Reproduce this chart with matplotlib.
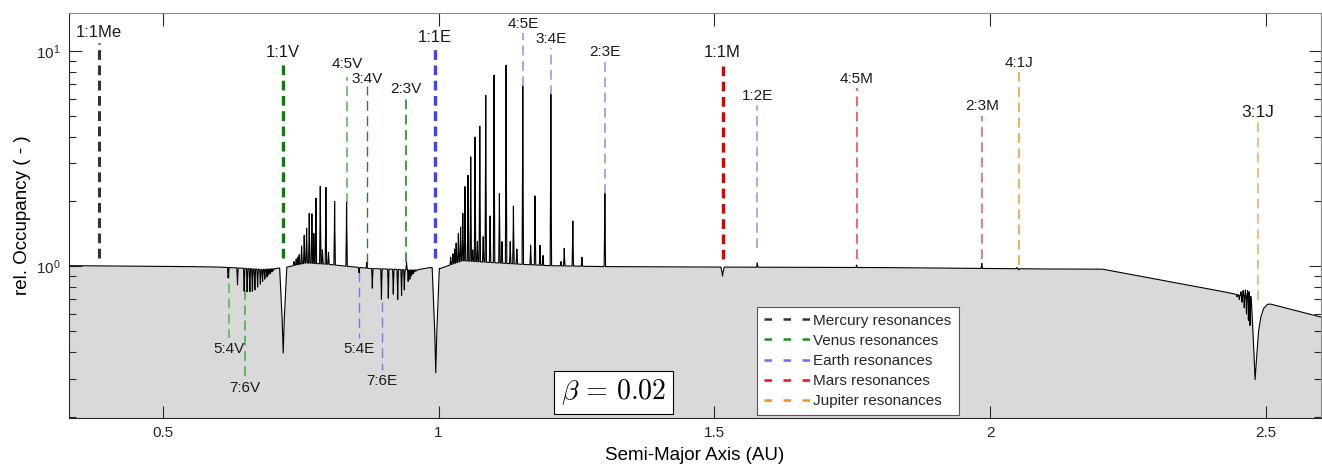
import numpy as np
import matplotlib
matplotlib.use('Agg')
import matplotlib.pyplot as plt
from matplotlib.lines import Line2D

plt.rcParams['font.family'] = ['Liberation Sans', 'DejaVu Sans']
plt.rcParams['mathtext.fontset'] = 'cm'
plt.rcParams['lines.scale_dashes'] = False
plt.rcParams['text.color'] = '#262626'

# smooth part of the occupancy curve (semi-major axis AU, rel. occupancy)
base_a = [0.33, 0.45, 0.55, 0.60, 0.64, 0.68, 0.705, 0.726, 0.74, 0.76, 0.80, 0.83, 0.85,
          0.875, 0.93, 0.944, 0.96, 0.985, 1.003, 1.02, 1.044, 1.08, 1.15, 1.20, 1.30,
          1.50, 1.80, 2.00, 2.10, 2.204, 2.43, 2.445, 2.4735, 2.4775, 2.4806, 2.4835,
          2.487, 2.491, 2.496, 2.503, 2.509, 2.60]
base_occ = [1.005, 1.0, 0.995, 0.99, 0.98, 0.965, 0.975, 0.99, 1.01, 1.035, 1.02, 1.0, 0.99,
            0.975, 0.965, 0.96, 0.96, 0.985, 0.975, 1.01, 1.06, 1.045, 1.02, 1.005, 0.995,
            0.99, 0.985, 0.975, 0.97, 0.968, 0.755, 0.74, 0.72, 0.45, 0.297, 0.38,
            0.50, 0.58, 0.635, 0.665, 0.666, 0.58]

# narrow peaks / dips (position AU, tip value)
spike_a = [0.6186, 0.6355, 0.6476, 0.6530, 0.6579, 0.6625, 0.667, 0.672, 0.677, 0.681,
           0.685, 0.689, 0.692, 0.695, 0.698, 0.701,
           0.738, 0.742, 0.745, 0.7474, 0.7517, 0.7565, 0.7608, 0.7656, 0.7704, 0.7739,
           0.7777, 0.7856, 0.7895, 0.7958, 0.8005, 0.8116, 0.8333,
           0.856, 0.870, 0.880, 0.8965, 0.909, 0.918, 0.926, 0.933, 0.938, 0.942,
           0.945, 0.948, 0.951, 0.954, 0.957, 0.960,
           1.022, 1.026, 1.029, 1.032, 1.036, 1.040, 1.044, 1.048, 1.0535, 1.0584, 1.062,
           1.0662, 1.0705, 1.0748, 1.081, 1.0856, 1.0935, 1.1007, 1.1104, 1.115, 1.1225,
           1.130, 1.1358, 1.142, 1.1528, 1.167, 1.175, 1.184, 1.1895, 1.2037, 1.222,
           1.228, 1.2435, 1.260, 1.3016,
           1.578, 1.758, 1.985, 2.045, 2.049, 2.052,
           2.448, 2.452, 2.455, 2.457, 2.459, 2.461, 2.463, 2.465, 2.467, 2.4685, 2.470, 2.4715]
spike_occ = [0.88, 0.82, 0.765, 0.76, 0.76, 0.765, 0.775, 0.80, 0.825, 0.85,
             0.87, 0.89, 0.91, 0.925, 0.94, 0.955,
             1.05, 1.08, 1.10, 1.13, 1.24, 1.39, 1.5, 1.76, 1.75, 1.42,
             2.07, 2.35, 1.19, 2.32, 1.16, 2.0, 1.97,
             0.93, 1.04, 0.79, 0.70, 0.71, 0.74, 0.70, 0.73, 0.775, 1.045,
             0.85, 0.87, 0.90, 0.92, 0.94, 0.95,
             1.10, 1.14, 1.2, 1.28, 1.42, 1.52, 1.76, 2.34, 2.64, 3.22, 1.19,
             3.98, 1.3, 4.47, 1.37, 6.22, 1.71, 7.71, 2.17, 1.3, 8.58,
             1.3, 1.90, 1.2, 6.85, 1.25, 2.12, 1.25, 1.12, 6.27, 1.05,
             1.21, 1.62, 1.10, 2.17,
             1.035, 1.012, 1.03, 0.975, 0.985, 0.96,
             0.72, 0.70, 0.76, 0.68, 0.77, 0.64, 0.775, 0.60, 0.77, 0.56, 0.76, 0.53]

# wide co-orbital dips (position, depth, half width)
dip_a = [0.7184, 0.995, 1.515]
dip_occ = [0.395, 0.32, 0.90]
dip_hw = [0.0065, 0.0065, 0.003]

# resonance markers: name, a (AU), start (near curve), end
res_names = ['1:1Me', '1:1V', '4:5V', '3:4V', '2:3V', '5:4V', '7:6V', '1:1E', '4:5E',
             '3:4E', '2:3E', '5:4E', '7:6E', '1:2E', '1:1M', '4:5M', '2:3M', '4:1J', '3:1J']
res_a = [0.384, 0.718, 0.834, 0.870, 0.941, 0.620, 0.649, 0.994, 1.153,
         1.204, 1.302, 0.856, 0.897, 1.578, 1.515, 1.758, 1.985, 2.052, 2.485]
res_from = [1.09, 1.09, 1.97, 1.03, 1.04, 0.98, 0.774, 1.09, 6.85,
            6.27, 2.17, 0.94, 0.683, 1.21, 1.085, 1.085, 1.085, 1.01, 0.695]
res_to = [10.9, 8.86, 7.6, 6.85, 5.98, 0.463, 0.305, 10.4, 12.05,
          10.3, 8.9, 0.463, 0.329, 5.6, 8.86, 6.7, 5.0, 7.96, 4.67]

# colour, line width, label size
line_style = {
    '1:1Me': ('#333333', 2.2, 12), '1:1V': ('#0a7d0a', 2.4, 12),
    '4:5V': ('#5cb85c', 1.2, 11), '3:4V': ('#2e7d2e', 1.0, 11),
    '2:3V': ('#1a941a', 1.2, 11), '5:4V': ('#5cb85c', 1.2, 11),
    '7:6V': ('#5cb85c', 1.4, 11), '1:1E': ('#4040ff', 2.4, 12),
    '4:5E': ('#9c9cff', 1.3, 11), '3:4E': ('#9c9cff', 1.3, 11),
    '2:3E': ('#9c9cff', 1.3, 11), '5:4E': ('#7a7af0', 1.0, 11),
    '7:6E': ('#7a7af0', 1.0, 11), '1:2E': ('#a0a0ff', 1.3, 11),
    '1:1M': ('#dd0000', 2.4, 12), '4:5M': ('#e85050', 1.2, 11),
    '2:3M': ('#f07878', 1.4, 11), '4:1J': ('#f0a040', 1.2, 11),
    '3:1J': ('#f2b060', 1.2, 12.5),
}
# a few labels sit a bit further from / closer to their line
label_gap = {'4:5V': 6.5, '3:4V': 2.5}

legend_names = ['Mercury resonances', 'Venus resonances', 'Earth resonances',
                'Mars resonances', 'Jupiter resonances']
legend_colors = ['#333333', '#1f8f1f', '#6b6bff', '#f01010', '#f39019']

# build curve vertices from baseline + features
feat_a = np.array(spike_a + dip_a)
feat_occ = np.array(spike_occ + dip_occ)
order = np.argsort(feat_a)
feat_a, feat_occ = feat_a[order], feat_occ[order]
hw = np.full(len(feat_a), 0.0013)
gaps = np.diff(feat_a)
near = np.minimum(np.r_[np.inf, gaps], np.r_[gaps, np.inf])
hw = np.minimum(hw, 0.45 * near)
for da, dw in zip(dip_a, dip_hw):
    hw[feat_a == da] = dw

log_base = lambda a: np.interp(a, base_a, np.log10(base_occ))
xs, ys = [], []
for a in base_a:
    if not np.any(np.abs(feat_a - a) < hw):
        xs.append(a)
        ys.append(log_base(a))
for a, t, w in zip(feat_a, np.log10(feat_occ), hw):
    bl, br = log_base(a - w), log_base(a + w)
    xs += [a - w, a - 0.3 * w, a, a + 0.3 * w, a + w]
    ys += [bl, bl + 0.6 * (t - bl), t, br + 0.6 * (t - br), br]
xs = np.array(xs)
ys = 10 ** np.array(ys)
o = np.argsort(xs, kind='stable')
xs, ys = xs[o], ys[o]

fig = plt.figure(figsize=(13.22, 4.72), dpi=100)
ax = fig.add_axes([0.0522, 0.1144, 0.9470, 0.8581])

ax.fill_between(xs, 0.1, ys, color='#d9d9d9', lw=0, zorder=1)
ax.plot(xs, ys, color='k', lw=0.8, zorder=3)

for name, a, y0, y1 in zip(res_names, res_a, res_from, res_to):
    c, lw, fs = line_style[name]
    ax.plot([a, a], [y0, y1], color=c, lw=lw, dashes=(7, 4), zorder=2)
    if y1 > y0:
        ax.annotate(name, (a, y1), xytext=(0, label_gap.get(name, 4)),
                    textcoords='offset points', ha='center', va='baseline',
                    fontsize=fs, color='#1a1a1a')
    else:
        ax.annotate(name, (a, y1), xytext=(0, -3), textcoords='offset points',
                    ha='center', va='top', fontsize=fs, color='#1a1a1a')

ax.set_yscale('log')
ax.set_xlim(0.33, 2.6)
ax.set_ylim(0.197, 15)
ax.set_xticks([0.5, 1, 1.5, 2, 2.5])
ax.set_xticklabels(['0.5', '1', '1.5', '2', '2.5'])
ax.set_yticks([1, 10])
ax.set_yticklabels([r'$\mathregular{10^{0}}$', r'$\mathregular{10^{1}}$'])
ax.tick_params(axis='both', which='major', direction='in', length=9, width=0.8,
               top=True, right=True, labelsize=11, colors='#262626', pad=6)
ax.tick_params(axis='y', which='minor', direction='in', length=5, width=0.8,
               right=True, left=True, labelleft=False, colors='#262626')
ax.tick_params(axis='x', which='minor', bottom=False, top=False)
for s in ['top', 'right']:
    ax.spines[s].set_color('#888888')
for s in ['left', 'bottom']:
    ax.spines[s].set_color('#262626')

ax.set_xlabel('Semi-Major Axis (AU)', fontsize=13.5, labelpad=5)
ax.set_ylabel('rel. Occupancy ( - )', fontsize=13.5, labelpad=4)

ax.text(0.4353, 0.063, r'$\beta\,=\,0.02$', transform=ax.transAxes, fontsize=20,
        ha='center', va='center', color='k',
        bbox=dict(boxstyle='square,pad=0.25', fc='white', ec='k', lw=0.8), zorder=5)

handles = [Line2D([], [], color=c, lw=1.8, dashes=(5.4, 8.3)) for c in legend_colors]
leg = ax.legend(handles, legend_names, loc='lower left', bbox_to_anchor=(0.5495, 0.0074),
                borderaxespad=0, fontsize=11, handlelength=3.0, handletextpad=0.25,
                labelspacing=0.4, borderpad=0.45, fancybox=False, framealpha=1,
                edgecolor='#555555')
leg.get_frame().set_linewidth(0.8)
leg.set_zorder(6)

fig.savefig('out.png', dpi=100)
plt.close()
